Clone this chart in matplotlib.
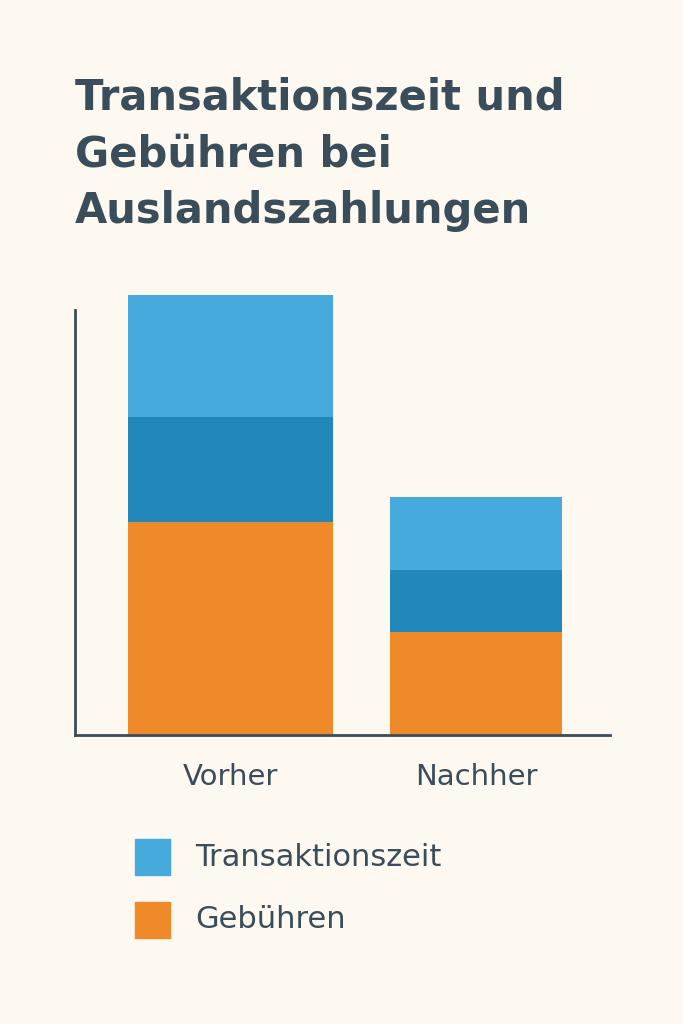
import matplotlib.pyplot as plt
from matplotlib.patches import Rectangle

categories = ["Vorher", "Nachher"]
gebuehren = [21.3, 10.3]
zeit_unten = [10.5, 6.2]
zeit_oben = [12.2, 7.3]
bar_widths = [0.835, 0.70]

bg = "#fdf8f0"
text_col = "#3a4d5a"
c_light = "#46aadc"
c_dark = "#2288b9"
c_orange = "#ee8a2a"

fig = plt.figure(figsize=(6.83, 10.24), dpi=100, facecolor=bg)
# Achse bis 295px, damit der Vorher-Balken ueber das Achsenende hinausragt
ax = fig.add_axes([0.11, 0.282, 0.783, 0.440], facecolor=bg)

x = [0, 1]
ax.bar(x, gebuehren, width=bar_widths, color=c_orange)
ax.bar(x, zeit_unten, width=bar_widths, bottom=gebuehren, color=c_dark)
bottoms = [g + z for g, z in zip(gebuehren, zeit_unten)]
ax.bar(x, zeit_oben, width=bar_widths, bottom=bottoms, color=c_light)

ax.set_xlim(-0.633, 1.546)
ax.set_ylim(0, 45.0)
for s in ["top", "right"]:
    ax.spines[s].set_visible(False)
for s in ["left", "bottom"]:
    ax.spines[s].set_color(text_col)
    ax.spines[s].set_linewidth(2)
ax.spines["left"].set_bounds(0, 42.5)
ax.set_yticks([])
ax.set_xticks(x)
ax.set_xticklabels(categories, fontsize=21, color=text_col)
ax.tick_params(axis="x", length=0, pad=20)

fig.text(0.11, 0.849, "Transaktionszeit und\nGebühren bei\nAuslandszahlungen",
         fontsize=30, fontweight="bold", color=text_col, va="center",
         linespacing=1.45)

# Legende
for ypx, col, lab in [(857, c_light, "Transaktionszeit"), (920, c_orange, "Gebühren")]:
    fig.patches.append(Rectangle((135 / 683, 1 - (ypx + 18) / 1024), 35 / 683, 36 / 1024,
                                 transform=fig.transFigure, color=col))
    fig.text(195 / 683, 1 - ypx / 1024, lab, fontsize=22, color=text_col, va="center")

fig.savefig("out.png", dpi=100, facecolor=bg)
